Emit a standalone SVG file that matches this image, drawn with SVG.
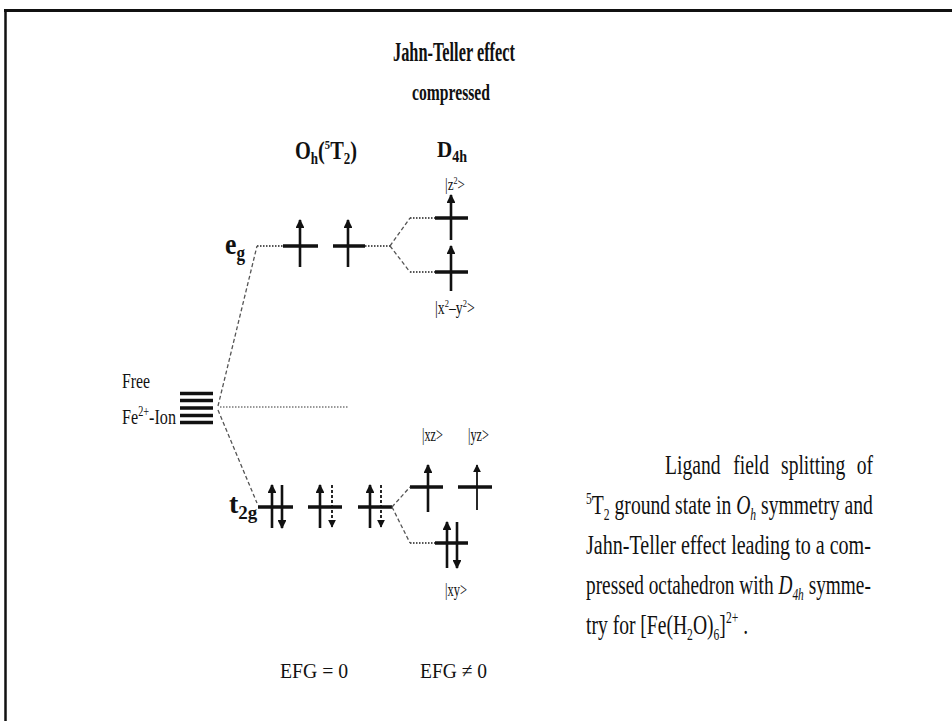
<svg xmlns="http://www.w3.org/2000/svg" width="952" height="721" viewBox="0 0 952 721">
<defs>
<style>
text{font-family:"Liberation Serif","Times New Roman",serif;fill:#111}
.b{font-weight:bold}
.lvl{stroke:#111;stroke-width:3.5;fill:none}
.arr{stroke:#111;stroke-width:2.6;fill:none}
.arrt{stroke:#111;stroke-width:1.8;fill:none}
.arrd{stroke:#111;stroke-width:1.8;fill:none;stroke-dasharray:3 2}
.dash{stroke:#555;stroke-width:1.3;fill:none;stroke-dasharray:4 2.5}
.dot{stroke:#555;stroke-width:2;fill:none;stroke-dasharray:1.5 1.5}
.dotl{stroke:#999;stroke-width:2;fill:none;stroke-dasharray:1.5 1.5}
</style>
<marker id="ah" viewBox="0 0 10 10" refX="9" refY="5" markerWidth="3.4" markerHeight="3.4" markerUnits="strokeWidth" orient="auto">
<path d="M0,0 L10,5 L0,10 Z" fill="#111"/>
</marker>
<marker id="aht" viewBox="0 0 10 10" refX="9" refY="5" markerWidth="4.5" markerHeight="4.5" markerUnits="strokeWidth" orient="auto">
<path d="M0,0 L10,5 L0,10 Z" fill="#111"/>
</marker>
</defs>
<rect width="952" height="721" fill="#fff"/>
<g id="frame">
<line x1="4" y1="10.5" x2="952" y2="10.5" stroke="#111" stroke-width="3"/>
<line x1="5.5" y1="9" x2="5.5" y2="721" stroke="#111" stroke-width="2.5"/>
</g>
<g id="headers">
<text class="b" x="393" y="61" font-size="27" textLength="122" lengthAdjust="spacingAndGlyphs">Jahn-Teller effect</text>
<text class="b" x="412" y="100" font-size="23" textLength="78" lengthAdjust="spacingAndGlyphs">compressed</text>
<text class="b" transform="translate(295,159) scale(0.814,1)" font-size="25">O<tspan font-size="16" dy="5">h</tspan><tspan dy="-5">(</tspan><tspan font-size="13" dy="-10">5</tspan><tspan dy="10">T</tspan><tspan font-size="16" dy="5">2</tspan><tspan dy="-5">)</tspan></text>
<text class="b" transform="translate(437,157) scale(0.877,1)" font-size="24">D<tspan font-size="16" dy="5">4h</tspan></text>
</g>
<g id="free-ion">
<text x="122" y="388" font-size="22" textLength="28" lengthAdjust="spacingAndGlyphs">Free</text>
<text transform="translate(122,424) scale(0.734,1)" font-size="22">Fe<tspan font-size="14" dy="-8">2+</tspan><tspan dy="8">-Ion</tspan></text>
<path class="lvl" stroke-width="3" d="M180,393.5H213M180,400.5H213M180,408H213M180,415.5H213M180,422.5H213"/>
</g>
<g id="eg">
<text class="b" transform="translate(225,254) scale(0.858,1)" font-size="30">e<tspan font-size="20" dy="6">g</tspan></text>
<path class="lvl" d="M283,246H318M333,246H365"/>
<line class="arr" x1="300" y1="267" x2="300" y2="220" marker-end="url(#ah)"/>
<line class="arr" x1="348" y1="267" x2="348" y2="220" marker-end="url(#ah)"/>
</g>
<g id="z2">
<text transform="translate(445,190) scale(0.82,1)" font-size="16">|z<tspan font-size="10" dy="-6">2</tspan><tspan dy="6">&gt;</tspan></text>
<path class="lvl" d="M435,218H468"/>
<line class="arr" x1="451" y1="240" x2="451" y2="195" marker-end="url(#ah)"/>
</g>
<g id="x2y2">
<path class="lvl" d="M435,272H468"/>
<line class="arr" x1="451" y1="291" x2="451" y2="246" marker-end="url(#ah)"/>
<text transform="translate(435,314) scale(0.77,1)" font-size="18">|x<tspan font-size="11" dy="-7">2</tspan><tspan dy="7">–y</tspan><tspan font-size="11" dy="-7">2</tspan><tspan dy="7">&gt;</tspan></text>
</g>
<g id="t2g">
<text class="b" x="229" y="513" font-size="28">t<tspan font-size="19" dy="6">2g</tspan></text>
<path class="lvl" d="M258,507H293M308,507H342M358,507H392"/>
<line class="arr" x1="272" y1="528" x2="272" y2="485" marker-end="url(#ah)"/>
<line class="arr" x1="282" y1="485" x2="282" y2="528" marker-end="url(#ah)"/>
<line class="arr" x1="320" y1="528" x2="320" y2="485" marker-end="url(#ah)"/>
<line class="arrd" x1="332" y1="485" x2="332" y2="527" marker-end="url(#aht)"/>
<line class="arr" x1="370" y1="528" x2="370" y2="485" marker-end="url(#ah)"/>
<line class="arrd" x1="381" y1="485" x2="381" y2="527" marker-end="url(#aht)"/>
</g>
<g id="xz">
<text x="422" y="441" font-size="18" textLength="21" lengthAdjust="spacingAndGlyphs">|xz&gt;</text>
<path class="lvl" d="M410,487H443"/>
<line class="arr" x1="428" y1="512" x2="428" y2="465" marker-end="url(#ah)"/>
</g>
<g id="yz">
<text x="468" y="441" font-size="18" textLength="21" lengthAdjust="spacingAndGlyphs">|yz&gt;</text>
<path class="lvl" d="M458,487H492"/>
<line class="arrt" x1="477" y1="510" x2="477" y2="465" marker-end="url(#aht)"/>
</g>
<g id="xy">
<path class="lvl" d="M435,543H468"/>
<line class="arr" x1="447" y1="568" x2="447" y2="522" marker-end="url(#ah)"/>
<line class="arr" x1="457" y1="522" x2="457" y2="568" marker-end="url(#ah)"/>
<text x="445" y="596" font-size="18" textLength="22" lengthAdjust="spacingAndGlyphs">|xy&gt;</text>
</g>
<g id="connectors">
<path class="dash" d="M218,406L257,246"/>
<path class="dash" d="M218,410L257,503"/>
<path class="dotl" d="M220,407H348"/>
<path class="dot" d="M257,246H283M365,246H390M410,218H435M410,272H435M410,543H435"/>
<path class="dash" d="M390,246L410,218M390,246L410,272"/>
<path class="dash" d="M392,507L410,487M392,507L410,543"/>
</g>
<g id="efg">
<text x="280" y="678" font-size="22" textLength="68" lengthAdjust="spacingAndGlyphs">EFG = 0</text>
<text x="420" y="678" font-size="22" textLength="67" lengthAdjust="spacingAndGlyphs">EFG ≠ 0</text>
</g>
<g id="caption" font-size="27">
<g transform="translate(586,474) scale(0.725,1)">
<text x="109" y="0">Ligand</text>
<text x="203" y="0">field</text>
<text x="269" y="0">splitting</text>
<text x="396" y="0" text-anchor="end">of</text>
</g>
<g transform="translate(586,514) scale(0.7275,1)">
<text x="0" y="0"><tspan font-size="16" dy="-10">5</tspan><tspan dy="10">T</tspan><tspan font-size="16" dy="6">2</tspan><tspan dy="-6"> ground state in </tspan><tspan font-style="italic">O</tspan><tspan font-style="italic" font-size="16" dy="6">h</tspan><tspan dy="-6"> symmetry and</tspan></text>
</g>
<g transform="translate(586,554) scale(0.743,1)">
<text x="0" y="0">Jahn-Teller effect leading to a com-</text>
</g>
<g transform="translate(586,594) scale(0.715,1)">
<text x="0" y="0">pressed octahedron with <tspan font-style="italic">D</tspan><tspan font-style="italic" font-size="16" dy="6">4h</tspan><tspan dy="-6"> symme-</tspan></text>
</g>
<g transform="translate(586,634) scale(0.725,1)">
<text x="0" y="0">try for [Fe(H<tspan font-size="16" dy="6">2</tspan><tspan dy="-6">O)</tspan><tspan font-size="16" dy="6">6</tspan><tspan dy="-6">]</tspan><tspan font-size="16" dy="-11">2+</tspan><tspan dy="11"> .</tspan></text>
</g>
</g>
</svg>
